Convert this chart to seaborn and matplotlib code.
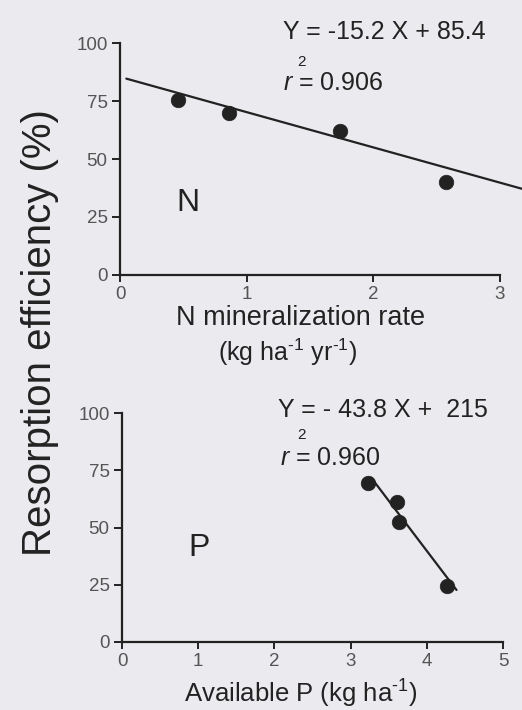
import numpy as np
import pandas as pd
import matplotlib
matplotlib.use("Agg")
import matplotlib.pyplot as plt
import seaborn as sns

# Resorption efficiency vs. nutrient availability
n_rate = [0.46, 0.86, 1.74, 2.57]          # N mineralization rate (kg ha-1 yr-1)
n_eff = [75.5, 70.0, 62.0, 40.0]           # N resorption efficiency (%)
n_slope, n_icpt, n_r2 = -15.2, 85.4, 0.906
n_fit_x = [0.05, 3.2]

p_avail = [3.23, 3.61, 3.64, 4.26]         # available P (kg ha-1)
p_eff = [69.5, 61.0, 52.5, 24.5]           # P resorption efficiency (%)
p_slope, p_icpt, p_r2 = -43.8, 215, 0.960
p_fit_x = [3.27, 4.39]

y_ticks = [0, 25, 50, 75, 100]
n_xticks = [0, 1, 2, 3]
p_xticks = [0, 1, 2, 3, 4, 5]

sns.set_theme(style="ticks")
plt.rcParams["font.family"] = ["Liberation Sans", "DejaVu Sans"]
plt.rcParams["mathtext.fontset"] = "custom"
plt.rcParams["mathtext.rm"] = "Liberation Sans"
plt.rcParams["mathtext.it"] = "Liberation Sans:italic"

bg = "#ebeaee"
ink = "#222222"
tick_col = "#555555"

fig = plt.figure(figsize=(5.22, 7.10), dpi=100, facecolor=bg)
W, H = 522.0, 710.0


def fx(px):
    return px / W


def fy(py):
    return 1 - py / H


ax_n = fig.add_axes([fx(120), fy(275), fx(500) - fx(120), fy(43) - fy(275)])
ax_p = fig.add_axes([fx(122), fy(642), fx(503) - fx(122), fy(413) - fy(642)])

panels = [
    (ax_n, n_rate, n_eff, n_slope, n_icpt, n_fit_x, n_xticks),
    (ax_p, p_avail, p_eff, p_slope, p_icpt, p_fit_x, p_xticks),
]

for ax, xs, ys, slope, icpt, fit_x, xt in panels:
    ax.set_facecolor(bg)
    df = pd.DataFrame({"x": xs, "y": ys})
    fit = pd.DataFrame({"x": fit_x, "y": [slope * v + icpt for v in fit_x]})
    sns.lineplot(data=fit, x="x", y="y", ax=ax, color=ink, lw=1.6)
    for l in ax.lines:
        l.set_clip_on(False)
    sns.scatterplot(data=df, x="x", y="y", ax=ax, color=ink, s=110,
                    edgecolor=ink, linewidth=0.5, zorder=3, clip_on=False)
    ax.set_xlim(xt[0], xt[-1])
    ax.set_ylim(0, 100)
    ax.set_xticks(xt)
    ax.set_yticks(y_ticks)
    ax.set_xlabel("")
    ax.set_ylabel("")
    for side in ("top", "right"):
        ax.spines[side].set_visible(False)
    for side in ("left", "bottom"):
        ax.spines[side].set_color(ink)
        ax.spines[side].set_linewidth(1.6)
    ax.tick_params(axis="y", length=6, width=1.4, color=ink, pad=3,
                   labelsize=13.5, labelcolor=tick_col)
    ax.tick_params(axis="x", length=5, width=1.4, color=ink, pad=3,
                   labelsize=13.5, labelcolor=tick_col)

# panel letters
ax_n.text(0.54, 31, "N", fontsize=23, color=ink, ha="center", va="center")
ax_p.text(1.01, 41, "P", fontsize=23, color=ink, ha="center", va="center")

# regression equations
fig.text(fx(283), fy(32), "Y = -15.2 X + 85.4", fontsize=18, color=ink,
         ha="left", va="center")
fig.text(fx(301), fy(62), "2", fontsize=11, color=ink, ha="center", va="center")
fig.text(fx(283), fy(83), r"$\it{r}$ = %.3f" % n_r2, fontsize=18, color=ink,
         ha="left", va="center")

fig.text(fx(278), fy(410), "Y = - 43.8 X +  215", fontsize=18, color=ink,
         ha="left", va="center")
fig.text(fx(302), fy(435), "2", fontsize=11, color=ink, ha="center", va="center")
fig.text(fx(280), fy(458), r"$\it{r}$ = %.3f" % p_r2, fontsize=18, color=ink,
         ha="left", va="center")

# axis titles
fig.text(fx(301), fy(318), "N mineralization rate", fontsize=19.5, color=ink,
         ha="center", va="center")
fig.text(fx(288), fy(352), r"(kg ha$^{\text{-}1}$ yr$^{\text{-}1}$)",
         fontsize=18, color=ink, ha="center", va="center")
fig.text(fx(301), fy(694), r"Available P (kg ha$^{\text{-}1}$)", fontsize=18.5,
         color=ink, ha="center", va="center")
fig.text(fx(40), fy(333), "Resorption efficiency (%)", fontsize=29, color=ink,
         ha="center", va="center", rotation=90)

fig.savefig("out.png", dpi=100, facecolor=bg)
